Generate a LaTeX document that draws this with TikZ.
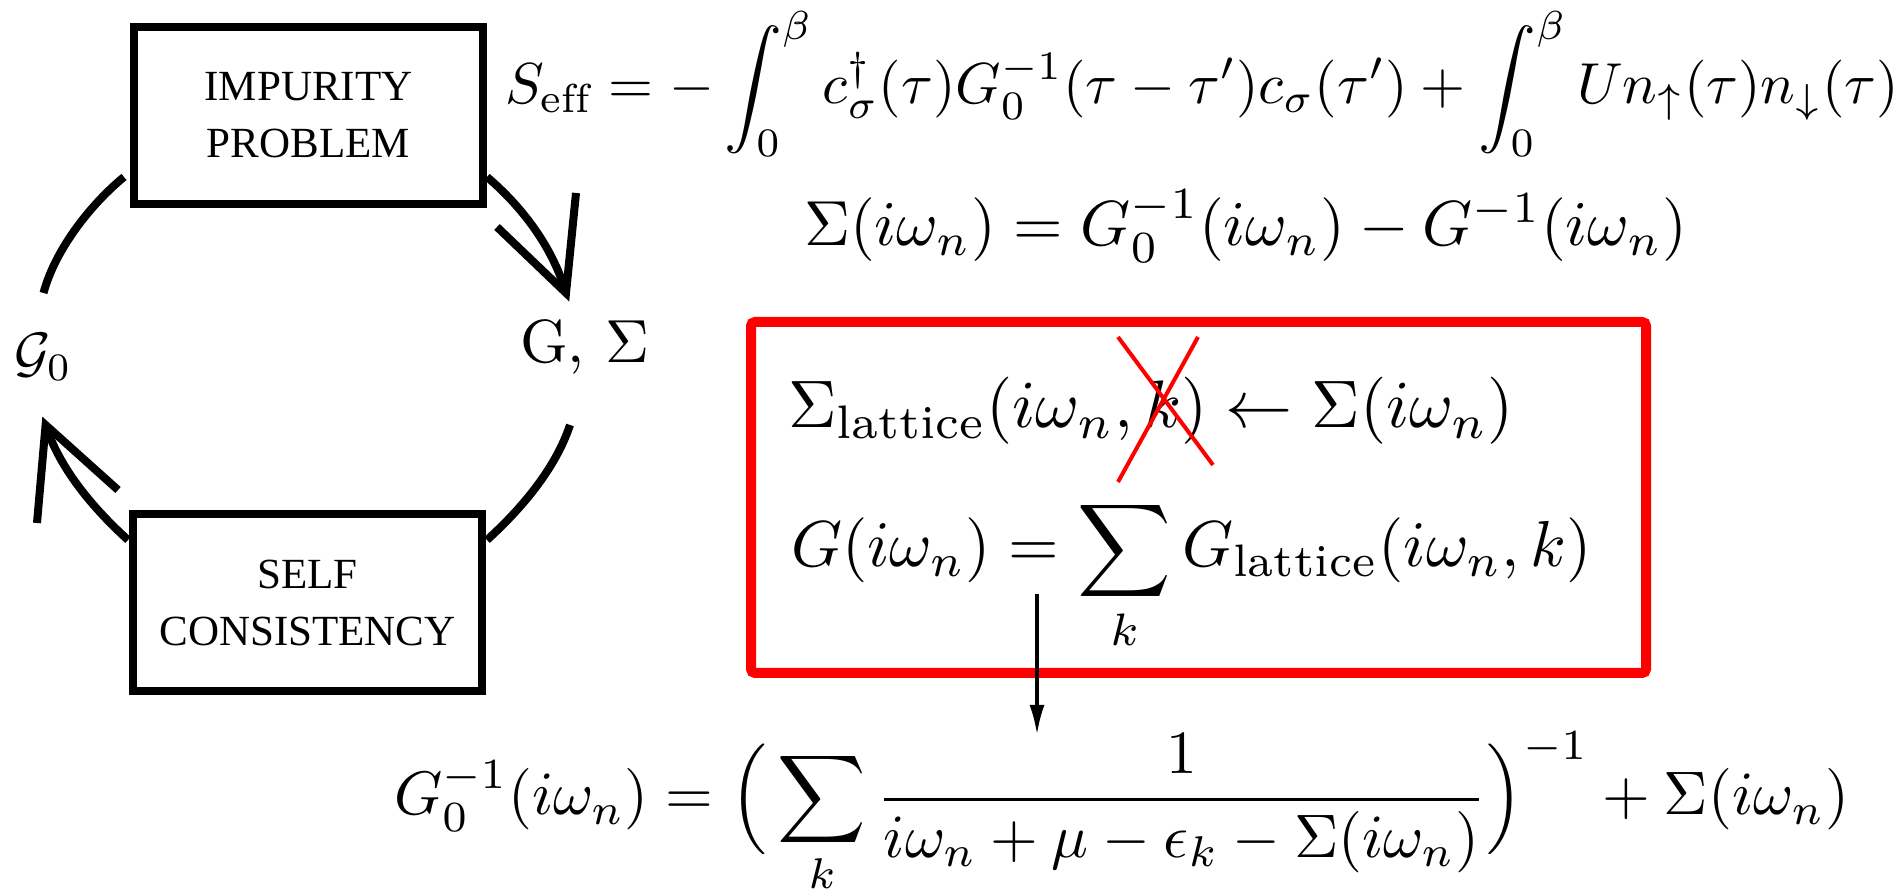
\documentclass[tikz,border=0pt]{standalone}
\usepackage{amsmath}
\usepackage{graphicx}
\usepackage{fontspec}
\newfontfamily\boxfont{Liberation Serif}
\usetikzlibrary{arrows.meta}
\begin{document}
\begin{tikzpicture}[x=0.1pt,y=-0.1pt,
  eq/.style={inner sep=0pt, anchor=base west},
  cyc/.style={line width=0.8pt, line cap=butt, line join=miter},
  procbox/.style={draw, line width=0.8pt, minimum width=34.9pt, minimum height=17.7pt,
    align=center, inner sep=0pt, font=\boxfont\fontsize{4.3pt}{5.7pt}\selectfont},
  redbox/.style={draw=red, line width=1pt, rounded corners=0.4pt},
  cross/.style={red, line width=0.4pt},
  downarrow/.style={line width=0.35pt, -{Latex[length=3pt,width=1.5pt]}}]
\useasboundingbox (0,0) rectangle (1901,890);

% cycle diagram
\node[procbox] (imp) at (308.5,115.5) {IMPURITY\\PROBLEM};
\node[procbox] (self) at (307.5,602.5) {SELF\\CONSISTENCY};
\node[eq] (g0lab) at (12,372) {\resizebox{5.8pt}{!}{$\mathcal{G}_0$}};
\node[eq] (gslab) at (518,363) {\resizebox{12.9pt}{!}{G, $\Sigma$}};

\coordinate (a1s) at (124,177);
\coordinate (a1e) at (43.5,293);
\coordinate (a2s) at (487,177);
\coordinate (a2e) at (566,293);
\coordinate (a3s) at (570,425);
\coordinate (a3e) at (487,540);
\coordinate (a4s) at (128,540);
\coordinate (a4e) at (45.6,425);

\draw[cyc] (a1s) .. controls (90,205) and (55,250) .. (a1e);
\draw[cyc] (a2s) .. controls (520,205) and (552,245) .. (a2e);
\draw[cyc] (576,193) -- (a2e) -- (497,227);
\draw[cyc] (a3s) .. controls (555,470) and (520,510) .. (a3e);
\draw[cyc] (a4s) .. controls (95,510) and (60,470) .. (a4e);
\draw[cyc] (37,523) -- (a4e) -- (118,490);

% equations
\node[eq] (seff) at (503,104) {\resizebox{139.4pt}{!}{$\displaystyle S_{\mathrm{eff}} = -\int_0^\beta c^\dagger_\sigma(\tau)G_0^{-1}(\tau-\tau')c_\sigma(\tau') + \int_0^\beta U n_\uparrow(\tau) n_\downarrow(\tau)$}};
\node[eq] (sig) at (802,246) {\resizebox{88.3pt}{!}{$\Sigma(i\omega_n) = G_0^{-1}(i\omega_n) - G^{-1}(i\omega_n)$}};

\draw[redbox] (751,322) rectangle (1646,673);
\node[eq] (slat) at (786,428) {\resizebox{72.6pt}{!}{$\Sigma_{\mathrm{lattice}}(i\omega_n, k) \leftarrow \Sigma(i\omega_n)$}};
\draw[cross] (1118,337) -- (1213,465);
\draw[cross] (1198,337) -- (1118,482);
\node[eq] (gloc) at (789,567) {\resizebox{80.1pt}{!}{$\displaystyle G(i\omega_n) = \sum_k G_{\mathrm{lattice}}(i\omega_n, k)$}};

\node[eq] (g0eq) at (392,815) {\resizebox{145.5pt}{!}{$\displaystyle G_0^{-1}(i\omega_n) = \Big(\sum_k \frac{1}{i\omega_n+\mu-\epsilon_k-\Sigma(i\omega_n)}\Big)^{-1} + \Sigma(i\omega_n)$}};

\coordinate (arrs) at (1037,594);
\coordinate (arre) at (1037,735);
\draw[downarrow] (arrs) -- (arre);
\end{tikzpicture}
\end{document}
